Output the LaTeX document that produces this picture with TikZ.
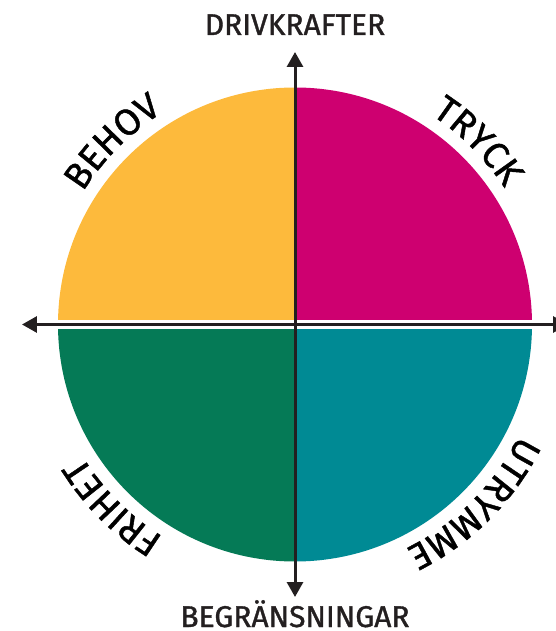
\documentclass[tikz,border=0pt]{standalone}
\usepackage{fontspec}
\setmainfont{Fira Sans}[FakeBold=1.2]
\usetikzlibrary{arrows.meta, decorations.text}

\definecolor{behovyellow}{RGB}{253,186,60}
\definecolor{tryckmagenta}{RGB}{206,0,112}
\definecolor{frihetgreen}{RGB}{5,122,86}
\definecolor{utrymmeteal}{RGB}{0,138,148}
\definecolor{axisblack}{RGB}{35,31,32}

\begin{document}
\begin{tikzpicture}[
    x=1pt, y=1pt,
    quarter/.style={line width=0pt},
    axis/.style={draw=axisblack, line width=3pt, {Triangle[length=15pt, width=16pt]}-{Triangle[length=15pt, width=16pt]}},
    axis_label/.style={font=\fontsize{30}{30}\selectfont, text=axisblack, anchor=base, inner sep=0pt},
    arc_label/.style={decorate, decoration={text along path, text align=center, text={|\fontsize{37}{37}\selectfont|#1}}}
]
    \useasboundingbox (-295,-306.5) rectangle (260,324.5);
    \coordinate (c) at (0,0);

    % the four quarters
    \fill[behovyellow, quarter] (c) -- (180:237) arc[start angle=180, end angle=90, radius=237] -- cycle;
    \fill[tryckmagenta, quarter] (c) -- (90:237) arc[start angle=90, end angle=0, radius=237] -- cycle;
    \fill[utrymmeteal, quarter] (c) -- (0:237) arc[start angle=0, end angle=-90, radius=237] -- cycle;
    \fill[frihetgreen, quarter] (c) -- (-90:237) arc[start angle=-90, end angle=-180, radius=237] -- cycle;
    \fill[white] (-240,-4.5) rectangle (240,4.5);

    % axes
    \coordinate (west) at (-273,0);
    \coordinate (east) at (273,0);
    \coordinate (north) at (0,272.5);
    \coordinate (south) at (0,-272.5);
    \draw[axis] (west) -- (east);
    \draw[axis] (south) -- (north);

    \node[axis_label] (drivkrafter) at (0,289.5) {DRIVKRAFTER};
    \node[axis_label] (begransningar) at (0,-302.5) {BEGRÄNSNINGAR};

    % labels round the circle
    \path[arc_label=BEHOV] (175:250) arc[start angle=175, end angle=95, radius=250];
    \path[arc_label=TRYCK] (85:250) arc[start angle=85, end angle=5, radius=250];
    \path[arc_label=UTRYMME] (-5:250) arc[start angle=-5, end angle=-85, radius=250];
    \path[arc_label=FRIHET] (-95:250) arc[start angle=-95, end angle=-175, radius=250];
\end{tikzpicture}
\end{document}
